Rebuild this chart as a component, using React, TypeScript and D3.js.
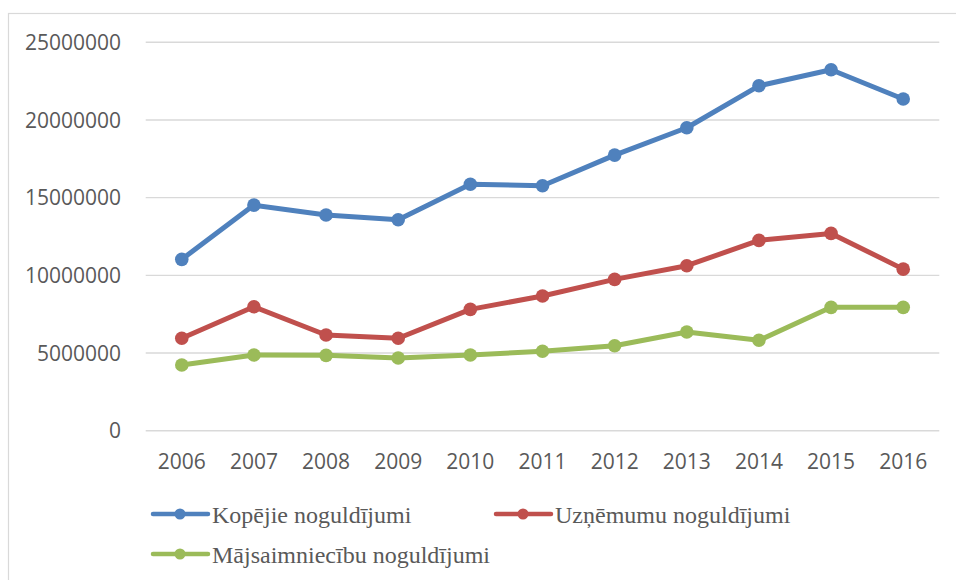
import React from "react";
import * as d3 from "d3";

const years = ["2006", "2007", "2008", "2009", "2010", "2011", "2012", "2013", "2014", "2015", "2016"];
const kopejie = [11030000, 14520000, 13880000, 13580000, 15860000, 15770000, 17740000, 19500000, 22200000, 23230000, 21350000];
const uznemumu = [5950000, 7980000, 6160000, 5950000, 7810000, 8670000, 9740000, 10620000, 12250000, 12700000, 10400000];
const majsaimniecibu = [4230000, 4870000, 4850000, 4680000, 4870000, 5110000, 5470000, 6350000, 5820000, 7940000, 7940000];
const yTicks = [0, 5000000, 10000000, 15000000, 20000000, 25000000];

const seriesNames = ["Kopējie noguldījumi", "Uzņēmumu noguldījumi", "Mājsaimniecību noguldījumi"];
const seriesColors = ["#4F81BD", "#C0504D", "#9BBB59"];

export default function App() {
  const W = 956, H = 580;
  const left = 145.7, right = 939.3, top = 42.3, bottom = 430.7;
  const x = d3.scalePoint<string>().domain(years).range([left, right]).padding(0.5);
  const y = d3.scaleLinear().domain([0, 25000000]).range([bottom, top]);
  const line = d3.line<number>().x((_, i) => x(years[i])!).y((d) => y(d));
  const data = [kopejie, uznemumu, majsaimniecibu];
  const legendPos = [
    { x1: 153, y: 514, tx: 212 },
    { x1: 496, y: 514, tx: 555 },
    { x1: 153, y: 554, tx: 212 },
  ];
  return (
    <svg width={W} height={H} style={{ position: "absolute", left: 0, top: 0, background: "#fff" }}>
      <rect x={8.5} y={13.5} width={1000} height={700} fill="none" stroke="#d9d9d9" strokeWidth={1.2} />
      {yTicks.map((t) => (
        <g key={t}>
          <line x1={left} x2={right} y1={y(t)} y2={y(t)} stroke="#d9d9d9" strokeWidth={1.4} />
          <text x={121} y={y(t)} dy="0.36em" textAnchor="end" fontFamily="'Open Sans', sans-serif" fontSize={21} fill="#595959">
            {t}
          </text>
        </g>
      ))}
      {years.map((yr) => (
        <text key={yr} x={x(yr)} y={469} textAnchor="middle" fontFamily="'Open Sans', sans-serif" fontSize={21} fill="#595959">
          {yr}
        </text>
      ))}
      {data.map((s, si) => (
        <g key={si}>
          <path d={line(s)!} fill="none" stroke={seriesColors[si]} strokeWidth={5} strokeLinejoin="round" strokeLinecap="round" />
          {s.map((v, i) => (
            <circle key={i} cx={x(years[i])} cy={y(v)} r={6.8} fill={seriesColors[si]} />
          ))}
        </g>
      ))}
      {seriesNames.map((n, i) => {
        const p = legendPos[i];
        return (
          <g key={n}>
            <line x1={p.x1} x2={p.x1 + 55} y1={p.y} y2={p.y} stroke={seriesColors[i]} strokeWidth={4.5} strokeLinecap="round" />
            <circle cx={p.x1 + 27} cy={p.y} r={5.5} fill={seriesColors[i]} />
            <text x={p.tx} y={p.y + 8.5} fontFamily="'Liberation Serif', 'Times New Roman', serif" fontSize={24} fill="#595959">
              {n}
            </text>
          </g>
        );
      })}
    </svg>
  );
}
